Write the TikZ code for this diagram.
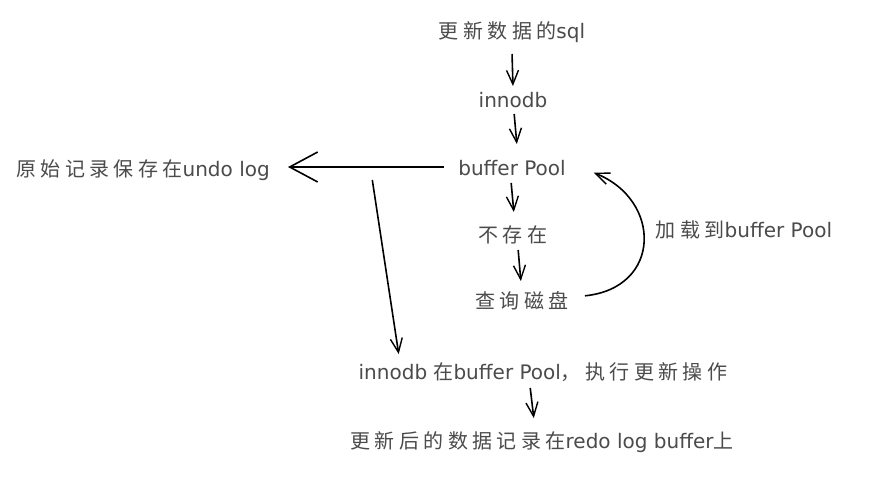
\documentclass[tikz,border=0pt]{standalone}
\usepackage{fontspec}
\setmainfont{DejaVu Sans}
\newfontfamily\cjk[LetterSpace=22]{Noto Sans CJK SC}
\usetikzlibrary{arrows.meta,calc}
\definecolor{txt}{RGB}{75,75,75}
\tikzset{
  lbl/.style={text=txt,font=\fontsize{20}{24}\selectfont,inner sep=0pt,anchor=center},
  arr/.style={draw=black,line width=1.6pt,-{Straight Barb[length=14pt,width=12pt,line width=1.4pt]},shorten >=2pt,shorten <=2pt},
  bigarr/.style={draw=black,line width=1.8pt,-{Straight Barb[length=28pt,width=30pt,line width=1.6pt]}},
}
\begin{document}
\begin{tikzpicture}[x=1pt,y=-1pt]
\useasboundingbox[fill=white] (0,0) rectangle (891,483);
\node[lbl] (sql) at (512,32) {{\cjk 更新数据的}sql};
\node[lbl] (innodb) at (513,100) {innodb};
\node[lbl] (pool) at (512,168) {buffer Pool};
\node[lbl] (nocun) at (513,235) {{\cjk 不存在}};
\node[lbl] (disk) at (522,301) {{\cjk 查询磁盘}};
\node[lbl] (load) at (744,230) {{\cjk 加载到}buffer Pool};
\node[lbl] (undo) at (143,170) {{\cjk 原始记录保存在}undo log};
\node[lbl] (update) at (543,372) {innodb {\cjk 在}buffer Pool{\cjk ，执行更新操作}};
\node[lbl] (redo) at (542,442) {{\cjk 更新后的数据记录在}redo log buffer{\cjk 上}};

\coordinate (a1s) at (512,52);  \coordinate (a1e) at (513,88);
\coordinate (a2s) at (514,112); \coordinate (a2e) at (517,146);
\coordinate (a3s) at (511,181); \coordinate (a3e) at (514,214);
\coordinate (a4s) at (518,248); \coordinate (a4e) at (521,283);
\coordinate (a5s) at (530,386); \coordinate (a5e) at (534,420);
\coordinate (us) at (444,167);  \coordinate (ue) at (288,167);
\coordinate (ls) at (372,178);  \coordinate (le) at (399,356);
\coordinate (cs) at (583,296);  \coordinate (ce) at (592,172);

\draw[arr] (a1s) -- (a1e);
\draw[arr] (a2s) -- (a2e);
\draw[arr] (a3s) -- (a3e);
\draw[arr] (a4s) -- (a4e);
\draw[arr] (a5s) -- (a5e);
\draw[bigarr] (us) -- (ue);
\draw[arr] (ls) -- (le);
\draw[arr] (cs) .. controls (662,288) and (662,200) .. (ce);
\end{tikzpicture}
\end{document}
